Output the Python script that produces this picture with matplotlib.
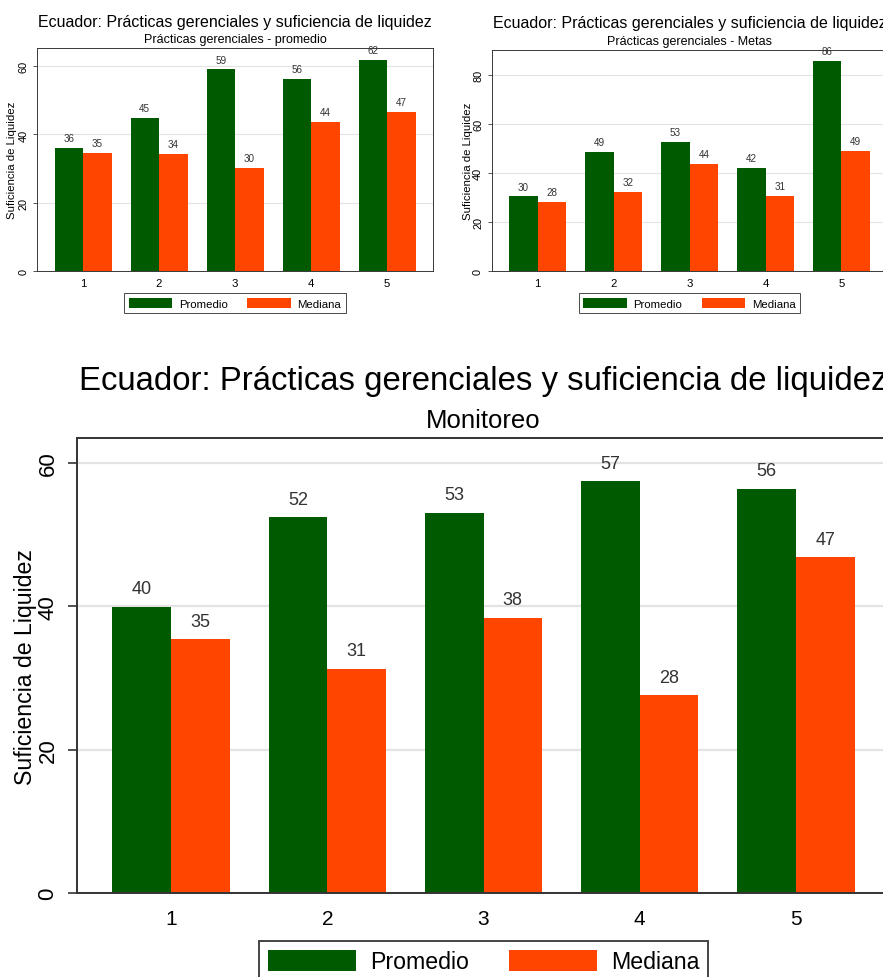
import matplotlib
matplotlib.use("Agg")
import matplotlib.pyplot as plt
import numpy as np

plt.rcParams['font.family'] = ['Liberation Sans', 'DejaVu Sans']

cats = ["1", "2", "3", "4", "5"]
titulo = "Ecuador: Prácticas gerenciales y suficiencia de liquidez"
ylab = "Suficiencia de Liquidez"
series = ["Promedio", "Mediana"]

# Prácticas gerenciales - promedio
prom_promedio = [36.0, 44.9, 59.1, 56.4, 61.8]
med_promedio = [34.7, 34.4, 30.3, 43.7, 46.6]

# Prácticas gerenciales - Metas
prom_metas = [30.4, 48.7, 52.6, 41.9, 85.7]
med_metas = [28.2, 32.2, 43.6, 30.6, 49.0]

# Monitoreo
prom_monit = [39.9, 52.4, 53.0, 57.4, 56.4]
med_monit = [35.4, 31.3, 38.4, 27.6, 46.8]

verde = '#005a00'
naranja = '#ff4500'

W, H = 883, 978
fig = plt.figure(figsize=(W / 100, H / 100), dpi=100)


def panel(rect, s, fs, subtitulo, prom, med, ymax, yticks, title_y, sub_y, ylab_x, leg_top):
    l, t, r, b = rect
    ax = fig.add_axes([l / W, 1 - b / H, (r - l) / W, (b - t) / H])
    x = np.arange(1, len(cats) + 1)
    w = 0.375
    b1 = ax.bar(x - w / 2, prom, w, color=verde, label=series[0], zorder=2)
    b2 = ax.bar(x + w / 2, med, w, color=naranja, label=series[1], zorder=2)
    for bars, vals in [(b1, prom), (b2, med)]:
        ax.bar_label(bars, labels=[f"{v:.0f}" for v in vals], padding=7 * s,
                     fontsize=fs['bar'], color='#333333')
    ax.set_xlim(0.4, 5.6)
    ax.set_ylim(0, ymax)
    ax.set_xticks(x)
    ax.set_xticklabels(cats)
    ax.set_yticks(yticks)
    ax.tick_params(axis='x', length=0, pad=11 * s, labelsize=fs['xt'])
    ax.tick_params(axis='y', length=6.5 * s, width=1.2 * s, pad=7 * s,
                   labelsize=fs['yt'], labelrotation=90, color='#333333')
    for lab in ax.get_yticklabels():
        lab.set_va('center')
    ax.grid(axis='y', color='#e3e3e3', lw=1.6 * s, zorder=0)
    ax.set_axisbelow(True)
    for sp in ax.spines.values():
        sp.set_color('#333333')
        sp.set_linewidth(1.4 * s)

    cx = (l + r) / 2
    fig.text(cx / W, 1 - title_y / H, titulo, ha='center', va='center', fontsize=fs['title'])
    fig.text(cx / W, 1 - sub_y / H, subtitulo, ha='center', va='center', fontsize=fs['sub'])
    fig.text(ylab_x / W, 1 - (t + b) / 2 / H, ylab, rotation=90, ha='center',
             va='center', fontsize=fs['ylab'])

    leg = ax.legend(loc='upper center', bbox_to_anchor=(0.5, -(leg_top - b) / (b - t)),
                    borderaxespad=0, ncol=2, fontsize=fs['leg'], handlelength=3.8,
                    handleheight=1.0, handletextpad=0.6, columnspacing=1.72,
                    borderpad=0.4, frameon=True, fancybox=False, framealpha=1)
    leg.get_frame().set_edgecolor('#444444')
    leg.get_frame().set_linewidth(1.4 * s)
    return ax


s_small = 0.487
fs_small = dict(bar=7.1, xt=8.2, yt=7.9, title=11.5, sub=9.0, ylab=8.2, leg=8.2)
fs_big = dict(bar=13, xt=15, yt=16, title=23.7, sub=18.5, ylab=16.7, leg=16.7)

panel((37.4, 49.3, 432.6, 271.7), s_small, fs_small, "Prácticas gerenciales - promedio",
      prom_promedio, med_promedio, 65.3, [0, 20, 40, 60], 22, 40, 12, 294)
panel((492.2, 51, 887, 271.7), s_small, fs_small, "Prácticas gerenciales - Metas",
      prom_metas, med_metas, 90.2, [0, 20, 40, 60, 80], 23.3, 41.7, 468, 294)
panel((77.3, 439.3, 889.7, 894.3), 1.0, fs_big, "Monitoreo",
      prom_monit, med_monit, 63.4, [0, 20, 40, 60], 381.7, 421, 26, 941.7)

fig.savefig("out.png", dpi=100)
